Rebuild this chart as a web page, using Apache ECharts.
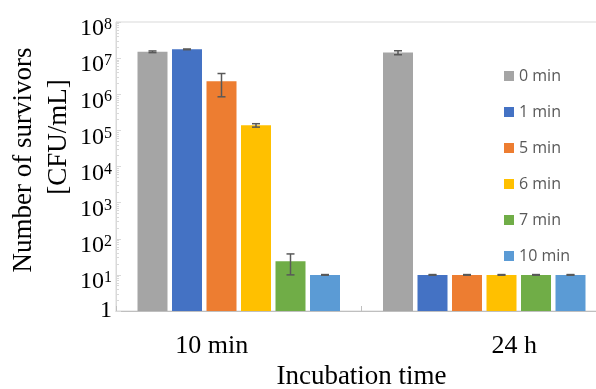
<!DOCTYPE html>
<html>
<head>
<meta charset="utf-8">
<script src="https://cdn.jsdelivr.net/npm/echarts@6/dist/echarts.min.js"></script>
<style>
  html, body { margin: 0; padding: 0; background: #fff; }
  #chart { width: 596px; height: 389px; }
</style>
</head>
<body>
<div id="chart"></div>
<script>
// incubation time groups
var categories = ['10 min', '24 h'];
// exposure times (legend)
var seriesNames = ['0 min', '1 min', '5 min', '6 min', '7 min', '10 min'];
var colors = ['#a5a5a5', '#4472c4', '#ed7d31', '#ffc000', '#70ad47', '#5b9bd5'];

// survivors, CFU/mL
var mean0 = [1.5e7, 1.42e7];
var mean1 = [1.75e7, 10];
var mean5 = [2.3e6, 10];
var mean6 = [1.38e5, 10];
var mean7 = [24, 10];
var mean10 = [10, 10];
// standard deviations
var err0 = [8e5, 1.8e6];
var err1 = [4e5, 0.2];
var err5 = [1.45e6, 0.2];
var err6 = [1.5e4, 0.2];
var err7 = [14, 0.2];
var err10 = [0.2, 0.2];

var means = [mean0, mean1, mean5, mean6, mean7, mean10];
var errs = [err0, err1, err5, err6, err7, err10];

var chart = echarts.init(document.getElementById('chart'));

var errData = [];
means.forEach(function (m, s) {
    m.forEach(function (v, c) {
        errData.push([c, v, errs[s][c], s]);
    });
});

var series = seriesNames.map(function (name, i) {
    return {
        name: name,
        type: 'bar',
        barWidth: 30,
        barGap: '15%',
        itemStyle: { color: colors[i] },
        data: means[i]
    };
});

series.push({
    type: 'custom',
    name: 'err',
    z: 10,
    encode: { x: 0, y: 1 },
    data: errData,
    renderItem: function (params, api) {
        var c = api.value(0), v = api.value(1), e = api.value(2), s = api.value(3);
        var layout = api.barLayout({ count: 6, barWidth: 30, barGap: '15%' });
        var top = api.coord([c, v + e]);
        var bot = api.coord([c, Math.max(v - e, 1)]);
        var x = top[0] + layout[s].offsetCenter;
        var hw = 4;
        var st = { stroke: '#595959', lineWidth: 1.5 };
        return {
            type: 'group',
            children: [
                { type: 'line', shape: { x1: x, y1: top[1], x2: x, y2: bot[1] }, style: st },
                { type: 'line', shape: { x1: x - hw, y1: top[1], x2: x + hw, y2: top[1] }, style: st },
                { type: 'line', shape: { x1: x - hw, y1: bot[1], x2: x + hw, y2: bot[1] }, style: st }
            ]
        };
    }
});

chart.setOption({
    animation: false,
    grid: {
        left: 116,
        right: -11,
        top: 22,
        bottom: 78,
        containLabel: false,
        outerBoundsMode: 'none',
        show: true,
        borderColor: '#d9d9d9',
        borderWidth: 1
    },
    legend: {
        data: seriesNames,
        orient: 'vertical',
        left: 499,
        top: 63,
        icon: 'rect',
        itemWidth: 10,
        itemHeight: 10,
        itemGap: 20,
        textStyle: { fontFamily: 'Open Sans', fontSize: 16, color: '#595959', lineHeight: 16 }
    },
    xAxis: {
        type: 'category',
        data: categories,
        name: 'Incubation time',
        nameLocation: 'middle',
        nameGap: 52,
        nameTextStyle: { fontFamily: 'Liberation Serif', fontSize: 27, color: '#000' },
        axisLine: { lineStyle: { color: '#bfbfbf' } },
        axisTick: { show: true, inside: true, length: 5, lineStyle: { color: '#bfbfbf' } },
        axisLabel: {
            margin: 22,
            formatter: function (v) {
                return v === '10 min' ? '{a|' + v + '}' : '{b|' + v + '}';
            },
            rich: {
                a: { fontFamily: 'Liberation Serif', fontSize: 26, color: '#000', padding: [0, 54, 0, 0] },
                b: { fontFamily: 'Liberation Serif', fontSize: 26, color: '#000', padding: [0, 0, 0, 60] }
            }
        }
    },
    yAxis: {
        type: 'log',
        logBase: 10,
        min: 1,
        max: 1e8,
        interval: 1,
        splitLine: { show: false },
        axisLine: { show: true, lineStyle: { color: '#d9d9d9' } },
        axisTick: { show: true, inside: true, length: 5, lineStyle: { color: '#d9d9d9' } },
        minorTick: { show: true, splitNumber: 9, length: 3, lineStyle: { color: '#d9d9d9' } },
        axisLabel: {
            margin: 4,
            padding: [14, 0, 0, 0],
            formatter: function (v) {
                var p = Math.round(Math.log10(v));
                if (p === 0) return '{one|1}';
                return '{n|10}{s|' + p + '}';
            },
            rich: {
                n: { fontFamily: 'Liberation Serif', fontSize: 24, color: '#000' },
                s: { fontFamily: 'Liberation Serif', fontSize: 16, color: '#000', verticalAlign: 'top' },
                one: { fontFamily: 'Liberation Serif', fontSize: 24, color: '#000', padding: [0, 0, 14, 0] }
            }
        }
    },
    graphic: [
        {
            type: 'text',
            x: 24, y: 160,
            rotation: Math.PI / 2,
            style: {
                text: 'Number of survivors',
                fontFamily: 'Liberation Serif', fontSize: 27, fill: '#000',
                textAlign: 'center', textVerticalAlign: 'middle'
            }
        },
        {
            type: 'text',
            x: 59, y: 137,
            rotation: Math.PI / 2,
            style: {
                text: '[CFU/mL]',
                fontFamily: 'Liberation Serif', fontSize: 27, fill: '#000',
                textAlign: 'center', textVerticalAlign: 'middle'
            }
        }
    ],
    series: series
});
</script>
</body>
</html>
